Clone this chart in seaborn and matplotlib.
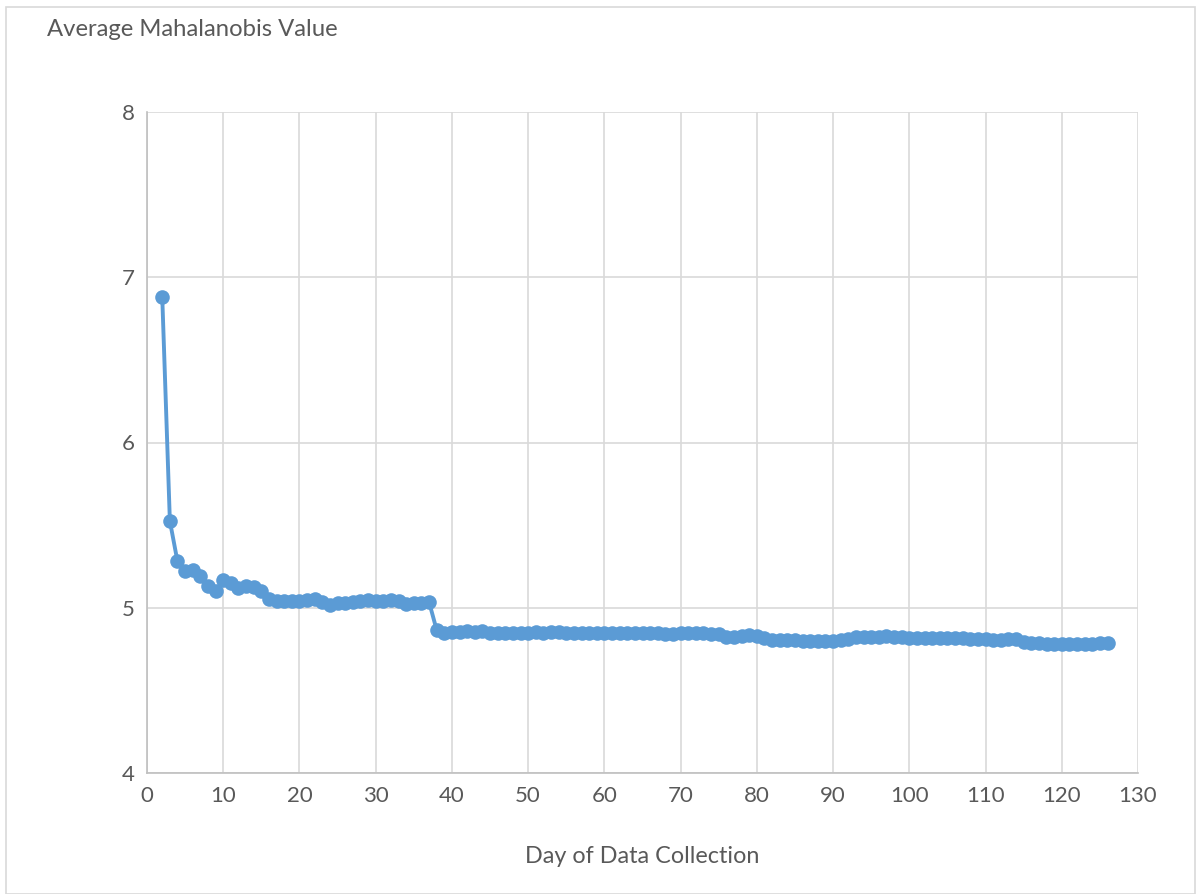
import matplotlib
matplotlib.use("Agg")
import matplotlib.pyplot as plt
import numpy as np
import pandas as pd
import seaborn as sns
from matplotlib.patches import Rectangle

# values, one per day (days 2..126)
days = list(range(2, 127))
mahalanobis = [
    6.88, 5.525, 5.28, 5.22, 5.23, 5.195, 5.13, 5.10, 5.168, 5.148,   # 2-11
    5.118, 5.132, 5.124, 5.103, 5.05, 5.043, 5.04, 5.04, 5.04, 5.047,  # 12-21
    5.055, 5.037, 5.015, 5.027, 5.03, 5.035, 5.04, 5.045, 5.04, 5.04,  # 22-31
    5.045, 5.04, 5.025, 5.03, 5.03, 5.035, 4.865, 4.846, 4.855, 4.855,  # 32-41
    4.858, 4.855, 4.858, 4.848, 4.845, 4.845, 4.846, 4.845, 4.85, 4.852,  # 42-51
    4.85, 4.852, 4.855, 4.85, 4.848, 4.848, 4.85, 4.848, 4.846, 4.846,  # 52-61
    4.846, 4.846, 4.846, 4.846, 4.848, 4.846, 4.843, 4.843, 4.846, 4.848,  # 62-71
    4.846, 4.846, 4.843, 4.84, 4.826, 4.826, 4.83, 4.835, 4.83, 4.815,  # 72-81
    4.805, 4.805, 4.805, 4.805, 4.80, 4.80, 4.80, 4.80, 4.80, 4.803,  # 82-91
    4.812, 4.82, 4.824, 4.826, 4.826, 4.828, 4.826, 4.82, 4.818, 4.818,  # 92-101
    4.816, 4.816, 4.818, 4.816, 4.815, 4.815, 4.812, 4.81, 4.808, 4.805,  # 102-111
    4.805, 4.81, 4.81, 4.795, 4.786, 4.788, 4.782, 4.78, 4.78, 4.78,  # 112-121
    4.78, 4.782, 4.782, 4.785, 4.785,  # 122-126
]

df = pd.DataFrame({"day": days, "value": mahalanobis})

sns.set_theme(style="white")
plt.rcParams["font.family"] = ["Lato", "DejaVu Sans"]

text_col = "#595959"
grid_col = "#d9d9d9"
line_col = "#5b9bd5"

fig = plt.figure(figsize=(12.01, 8.94), dpi=100)
ax = fig.add_axes([147 / 1201, 1 - 773 / 894, (1138 - 147) / 1201, (773 - 112) / 894])

sns.lineplot(data=df, x="day", y="value", ax=ax, color=line_col, linewidth=2.8,
             marker="o", markersize=10.5, markeredgewidth=0, markeredgecolor=line_col)

ax.set_xlim(0, 130)
ax.set_ylim(4, 8)
ax.set_xticks(range(0, 131, 10))
ax.set_yticks([4, 5, 6, 7, 8])
ax.grid(True, color=grid_col, linewidth=1.2)
ax.set_axisbelow(True)
for side in ["top", "right"]:
    ax.spines[side].set_visible(False)
for side in ["left", "bottom"]:
    ax.spines[side].set_color("#bfbfbf")
    ax.spines[side].set_linewidth(1.2)
ax.tick_params(axis="both", colors="#bfbfbf", labelcolor=text_col, labelsize=16,
               length=6, width=1.2, direction="out")
ax.tick_params(axis="x", pad=3)
ax.tick_params(axis="y", pad=3)
ax.set_xlabel("Day of Data Collection", fontsize=16.8, color=text_col, labelpad=29)
ax.set_ylabel("")

fig.text(47 / 1201, 1 - 29 / 894, "Average Mahalanobis Value", fontsize=17.2,
         color=text_col, va="center", ha="left")

# light border around the whole chart area
fig.patches.append(Rectangle((6 / 1201, 0), 1 - 12 / 1201, 1 - 7 / 894,
                             transform=fig.transFigure, fill=False,
                             edgecolor="#d9d9d9", linewidth=1.2))

fig.savefig("out.png", dpi=100, facecolor="white")
